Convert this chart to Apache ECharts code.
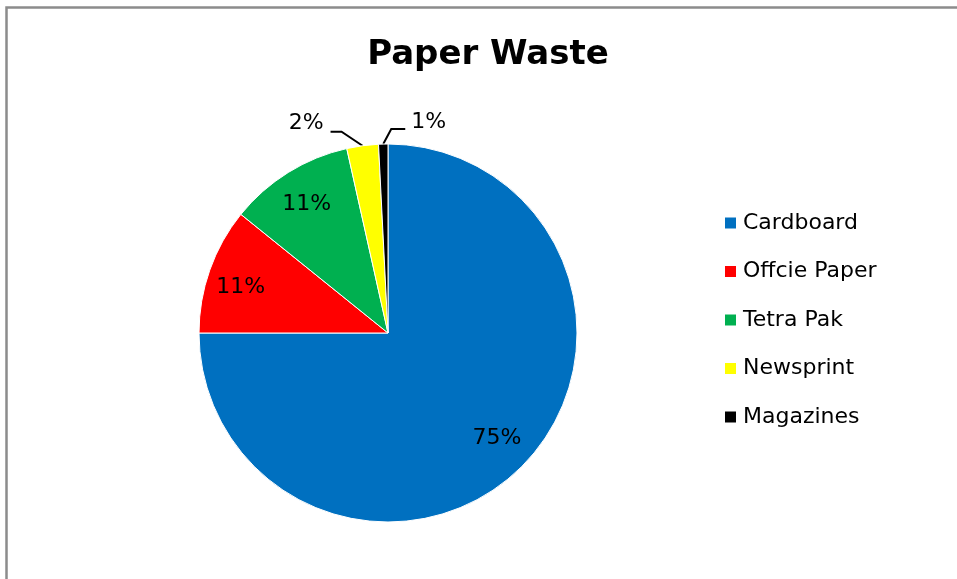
<!DOCTYPE html>
<html>
<head>
<meta charset="utf-8">
<script src="https://cdn.jsdelivr.net/npm/echarts@6/dist/echarts.min.js"></script>
<style>
html,body{margin:0;padding:0;background:#fff;}
#chart{width:957px;height:579px;}
</style>
</head>
<body>
<div id="chart"></div>
<script>
const categories = ['Cardboard', 'Offcie Paper', 'Tetra Pak', 'Newsprint', 'Magazines'];
const values = [75, 10.8, 10.7, 2.7, 0.8];
const labels = ['75%', '11%', '11%', '2%', '1%'];
const colors = ['#0070C0', '#FF0000', '#00B050', '#FFFF00', '#000000'];

const FONT = '"DejaVu Sans", sans-serif';
const chart = echarts.init(document.getElementById('chart'));

const labelOffsets = [[0, -4], [-2, 6], [0, 2], [0, 0], [0, 0]];

const mainData = categories.map((c, i) => ({ name: c, value: values[i], itemStyle: { color: colors[i] } }));
const labelData = categories.map((c, i) => ({
  name: c, value: values[i],
  label: i < 3 ? { show: true, position: 'inside', offset: labelOffsets[i] } : { show: true, position: 'outside' },
  labelLine: { show: i >= 3 }
}));

chart.setOption({
  animation: false,
  title: {
    text: 'Paper Waste',
    left: 483, top: 33, textAlign: 'center',
    textStyle: { fontFamily: FONT, fontWeight: 'bold', fontSize: 34, color: '#000' }
  },
  legend: {
    orient: 'vertical',
    left: 723, top: 212, padding: 0,
    itemWidth: 13, itemHeight: 13, itemGap: 26.5,
    icon: 'rect',
    data: categories,
    textStyle: { fontFamily: FONT, fontSize: 22, color: '#000', lineHeight: 22, padding: [0, 0, 0, 1] }
  },
  graphic: [{
    type: 'rect', silent: true,
    shape: { x: 6.5, y: 7.5, width: 1000, height: 1000 },
    style: { fill: 'none', stroke: '#8c8c8c', lineWidth: 2.5 }
  }],
  series: [{
    type: 'pie',
    center: [388, 333], radius: 189,
    startAngle: 90, clockwise: true,
    silent: true,
    label: { show: false }, labelLine: { show: false },
    itemStyle: { borderColor: '#fff', borderWidth: 1 },
    emphasis: { disabled: true },
    data: mainData
  }, {
    type: 'pie',
    center: [388, 333], radius: [113, 189],
    startAngle: 90, clockwise: true,
    silent: true,
    itemStyle: { color: 'rgba(0,0,0,0)' },
    emphasis: { disabled: true },
    label: {
      fontFamily: FONT, fontSize: 22, color: '#000',
      formatter: p => labels[p.dataIndex]
    },
    labelLine: { lineStyle: { color: '#000', width: 2 } },
    labelLayout: function (p) {
      const pts = p.labelLinePoints;
      if (!pts) return {};
      const p0 = pts[0];
      if (p.dataIndex === 3) {
        return {
          x: p0[0] - 39, y: p0[1] - 22.5, align: 'right', verticalAlign: 'middle',
          labelLinePoints: [p0, [p0[0] - 21, p0[1] - 14], [p0[0] - 32, p0[1] - 14]]
        };
      }
      if (p.dataIndex === 4) {
        return {
          x: p0[0] + 28, y: p0[1] - 21.5, align: 'left', verticalAlign: 'middle',
          labelLinePoints: [p0, [p0[0] + 8, p0[1] - 15], [p0[0] + 22, p0[1] - 15]]
        };
      }
      return {};
    },
    data: labelData
  }]
});
</script>
</body>
</html>
